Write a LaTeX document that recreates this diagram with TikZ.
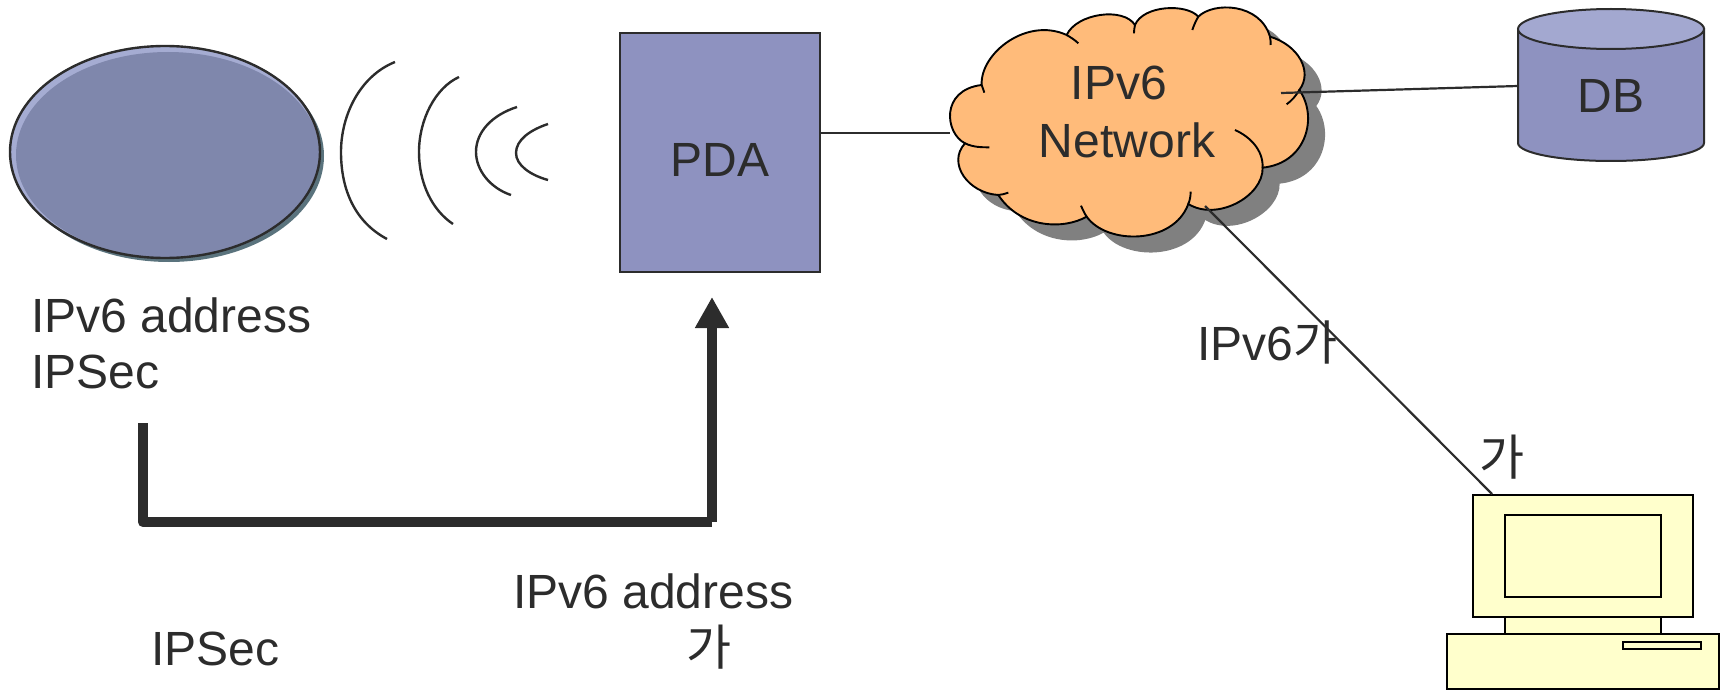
\documentclass[tikz,border=0pt]{standalone}
\usepackage{fontspec}
\setmainfont{Liberation Sans}
\newfontfamily\cjk{Noto Sans CJK KR}
\usetikzlibrary{arrows.meta,shapes.geometric}

\definecolor{inkgray}{RGB}{44,44,44}
\definecolor{boxblue}{RGB}{142,146,192}
\definecolor{dbtop}{RGB}{163,168,208}
\definecolor{hostblue}{RGB}{127,135,172}
\definecolor{hostlight}{RGB}{165,172,210}
\definecolor{hostshade}{RGB}{90,115,125}
\definecolor{cloudfill}{RGB}{255,187,122}
\definecolor{cloudshade}{RGB}{128,128,128}
\definecolor{termfill}{RGB}{255,255,204}

\newcommand{\cloudoutline}{(155,255) .. controls (150,160) and (290,50) .. (410,105)
  .. controls (440,40) and (580,20) .. (615,75)
  .. controls (640,15) and (770,10) .. (805,50)
  .. controls (850,5) and (990,8) .. (1020,110)
  .. controls (1105,135) and (1150,215) .. (1108,270)
  .. controls (1165,350) and (1130,490) .. (998,503)
  .. controls (1000,590) and (860,665) .. (775,612)
  .. controls (730,735) and (530,735) .. (470,650)
  .. controls (400,690) and (270,685) .. (205,585)
  .. controls (115,580) and (50,490) .. (105,430)
  .. controls (45,400) and (30,270) .. (155,255) -- cycle}

\tikzset{
  textlabel/.style={anchor=base west,inner sep=0pt,text=inkgray,font=\fontsize{48}{58}\selectfont},
  midlabel/.style={textlabel,anchor=base},
  hangul/.style={midlabel,font=\fontsize{49}{58}\selectfont\cjk},
  blockbox/.style={draw=black,line width=2pt,inner sep=0pt,outer sep=0pt},
  termbox/.style={blockbox,fill=termfill},
  wire/.style={draw=inkgray,line width=2.2pt},
  wave/.style={draw=inkgray,line width=2.4pt},
  fatline/.style={draw=inkgray,line width=10.5pt}
}

\begin{document}
\begin{tikzpicture}[x=1pt,y=-1pt]
  \useasboundingbox (0,0) rectangle (1725,690);

  % mobile host
  \node[ellipse,fill=hostshade,inner sep=0pt,minimum width=310pt,minimum height=212pt] (hostshadow) at (169,156) {};
  \node[ellipse,fill=hostlight,inner sep=0pt,minimum width=310pt,minimum height=212pt] (hostlit) at (165,152) {};
  \node[ellipse,fill=hostblue,inner sep=0pt,minimum width=304pt,minimum height=206pt] (hostbody) at (168,155) {};
  \node[ellipse,draw=inkgray,line width=2.4pt,inner sep=0pt,minimum width=310pt,minimum height=212pt] (host) at (165,152) {};

  % radio waves
  \draw[wave] (395,62) .. controls (360,76) and (341,115) .. (341,152) .. controls (341,190) and (355,222) .. (387,239);
  \draw[wave] (459,77) .. controls (435,88) and (419,120) .. (419,152) .. controls (419,183) and (432,210) .. (453,224);
  \draw[wave] (517,107) .. controls (492,115) and (476,132) .. (476,152) .. controls (476,170) and (490,188) .. (511,195);
  \draw[wave] (548,124) .. controls (530,130) and (516,140) .. (516,153) .. controls (516,165) and (530,175) .. (548,180);

  \node[blockbox,draw=inkgray,fill=boxblue,minimum width=200pt,minimum height=239pt] (pda) at (720,152.5) {};
  \node[midlabel] (pdatext) at (720,176) {PDA};

  % cloud, shadow first
  \begin{scope}[shift={(947,16)},scale=0.3333]
    \fill[cloudshade] \cloudoutline;
  \end{scope}
  \begin{scope}[shift={(930,0)},scale=0.3333]
    \filldraw[fill=cloudfill,draw=black,line width=1.9pt] \cloudoutline;
    \draw[black,line width=1.9pt] (155,255) .. controls (158,262) and (160,270) .. (163,278)
      (410,105) .. controls (422,112) and (435,120) .. (445,130)
      (615,75) .. controls (613,85) and (612,92) .. (612,100)
      (805,50) .. controls (798,62) and (792,75) .. (787,90)
      (1020,110) .. controls (1022,118) and (1022,126) .. (1022,135)
      (1108,270) .. controls (1098,288) and (1085,302) .. (1070,313)
      (998,503) .. controls (1000,450) and (960,410) .. (915,390)
      (775,612) .. controls (780,600) and (782,588) .. (782,575)
      (470,650) .. controls (463,640) and (458,628) .. (453,617)
      (205,585) .. controls (215,584) and (225,582) .. (235,578)
      (105,430) .. controls (130,442) and (155,442) .. (178,442);
  \end{scope}
  \node[midlabel] (ipvsix) at (1119,100) {IPv6};
  \node[midlabel] (network) at (1127,158) {Network};

  % database
  \path[blockbox,draw=inkgray,fill=boxblue] (1518,29) -- (1518,143)
    arc[start angle=180,end angle=360,x radius=93pt,y radius=18pt] -- (1704,29) -- cycle;
  \node[ellipse,blockbox,draw=inkgray,fill=dbtop,minimum width=186pt,minimum height=40pt] (dbcap) at (1611,29) {};
  \node[midlabel] (db) at (1611,113) {DB};

  % terminal
  \node[termbox,minimum width=156pt,minimum height=17pt] (neck) at (1583,625.5) {};
  \node[termbox,minimum width=220pt,minimum height=122pt] (monitor) at (1583,556) {};
  \node[termbox,minimum width=156pt,minimum height=82pt] (screen) at (1583,556) {};
  \node[termbox,minimum width=272pt,minimum height=55pt] (tower) at (1583,661.5) {};
  \node[termbox,minimum width=78pt,minimum height=7pt] (slot) at (1662,645.5) {};

  % free ends of the wires
  \coordinate (pdaport) at (820,133);
  \coordinate (cloudwest) at (950,133);
  \coordinate (cloudeast) at (1281,93);
  \coordinate (dbport) at (1518,86);
  \coordinate (cloudsouth) at (1205,206);
  \coordinate (termport) at (1492,494);
  \coordinate (arrowtop) at (143,423);
  \coordinate (arrowbend) at (143,522);
  \coordinate (arrowfoot) at (712,522);
  \coordinate (arrowhead) at (712,297);

  \draw[wire] (pdaport) -- (cloudwest);
  \draw[wire] (cloudeast) -- (dbport);
  \draw[wire] (cloudsouth) -- (termport);

  \draw[fatline,line join=round] (arrowtop) -- (arrowbend) -- (arrowfoot);
  \draw[fatline,-{Triangle[width=32pt,length=31pt]}] (arrowfoot) -- (arrowhead);

  \node[textlabel] (leftaddr) at (31,332) {IPv6 address};
  \node[textlabel] (leftsec) at (31,388) {IPSec};
  \node[textlabel] (midaddr) at (513,608) {IPv6 address};
  \node[hangul] (midga) at (709,665) {가};
  \node[textlabel] (lowsec) at (151,665) {IPSec};
  \node[textlabel] (netlabel) at (1197,360) {IPv6{\cjk 가}};
  \node[hangul] (termga) at (1502,475) {가};
\end{tikzpicture}
\end{document}
